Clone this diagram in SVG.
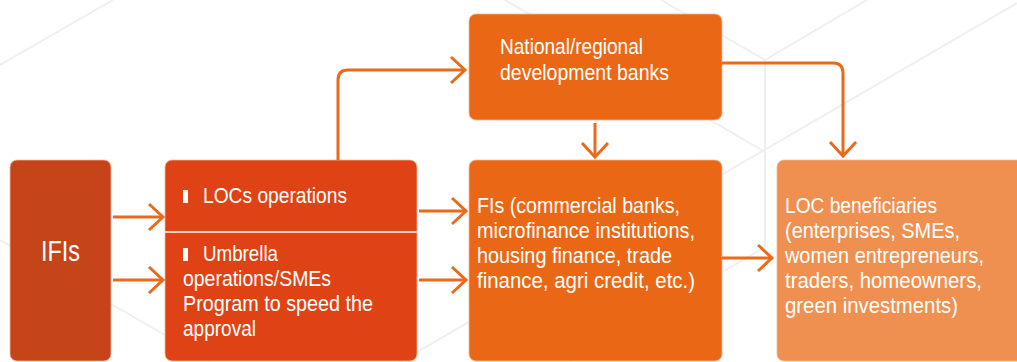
<svg xmlns="http://www.w3.org/2000/svg" width="1017" height="362" viewBox="0 0 1017 362">
  <style>
    .bg { stroke: #EFEFEF; stroke-width: 2; fill: none; }
    .box { stroke: #F4B594; stroke-width: 0.8; }
    .txt { font-family: "Liberation Sans", Arial, sans-serif; font-size: 21.5px; fill: #FFFFFF; }
    .big { font-size: 30px; }
    .conn { stroke: #EA6A1B; stroke-width: 3; fill: none; marker-end: url(#chev); }
  </style>
  <defs>
    <marker id="chev" markerUnits="userSpaceOnUse" markerWidth="24" markerHeight="32" refX="15" refY="14" orient="auto" overflow="visible">
      <path d="M1,1 L15,14 L1,27" fill="none" stroke="#EA6A1B" stroke-width="3"/>
    </marker>
  </defs>

  <rect width="1017" height="362" fill="#FFFFFF"/>

  <!-- faint isometric background grid -->
  <g id="background">
    <line class="bg" x1="0" y1="65" x2="113" y2="0"/>
    <line class="bg" x1="0" y1="240" x2="210" y2="361"/>
    <line class="bg" x1="661" y1="0" x2="765" y2="60"/>
    <line class="bg" x1="867" y1="0" x2="765" y2="60"/>
    <line class="bg" x1="765" y1="60" x2="765" y2="247"/>
    <line class="bg" x1="505" y1="0" x2="765" y2="152"/>
    <line class="bg" x1="1017" y1="3" x2="400" y2="362"/>
    <line class="bg" x1="765" y1="247" x2="570" y2="361"/>
  </g>

  <g id="node-ifis">
    <rect class="box" x="10" y="160" width="101" height="201" rx="7" fill="#C6441A"/>
    <text class="txt big" x="41" y="261" textLength="39" lengthAdjust="spacingAndGlyphs">IFIs</text>
  </g>

  <g id="node-locs">
    <rect class="box" x="165" y="160" width="252" height="201" rx="7" fill="#DF4315"/>
    <line x1="165" y1="232" x2="417" y2="232" stroke="#F7D3C0" stroke-width="2"/>
    <rect x="183" y="190" width="5" height="13" fill="#FFFFFF"/>
    <text class="txt" x="203" y="203" textLength="144" lengthAdjust="spacingAndGlyphs">LOCs operations</text>
    <rect x="183" y="248" width="5" height="13" fill="#FFFFFF"/>
    <text class="txt" x="203" y="261" textLength="75" lengthAdjust="spacingAndGlyphs">Umbrella</text>
    <text class="txt" x="183" y="286" textLength="148" lengthAdjust="spacingAndGlyphs">operations/SMEs</text>
    <text class="txt" x="183" y="311" textLength="190" lengthAdjust="spacingAndGlyphs">Program to speed the</text>
    <text class="txt" x="183" y="336" textLength="73" lengthAdjust="spacingAndGlyphs">approval</text>
  </g>

  <g id="node-national">
    <rect class="box" x="469" y="14" width="253" height="106" rx="7" fill="#EA6815"/>
    <text class="txt" x="500" y="54" textLength="143" lengthAdjust="spacingAndGlyphs">National/regional</text>
    <text class="txt" x="500" y="80" textLength="169" lengthAdjust="spacingAndGlyphs">development banks</text>
  </g>

  <g id="node-fis">
    <rect class="box" x="469" y="160" width="253" height="201" rx="7" fill="#EA6815"/>
    <text class="txt" x="477" y="213" textLength="203" lengthAdjust="spacingAndGlyphs">FIs (commercial banks,</text>
    <text class="txt" x="477" y="238" textLength="218" lengthAdjust="spacingAndGlyphs">microfinance institutions,</text>
    <text class="txt" x="477" y="263" textLength="195" lengthAdjust="spacingAndGlyphs">housing finance, trade</text>
    <text class="txt" x="477" y="288" textLength="218" lengthAdjust="spacingAndGlyphs">finance, agri credit, etc.)</text>
  </g>

  <g id="node-beneficiaries">
    <rect class="box" x="777" y="160" width="260" height="201" rx="7" fill="#F09050"/>
    <text class="txt" x="785" y="213" textLength="152" lengthAdjust="spacingAndGlyphs">LOC beneficiaries</text>
    <text class="txt" x="785" y="238" textLength="175" lengthAdjust="spacingAndGlyphs">(enterprises, SMEs,</text>
    <text class="txt" x="785" y="263" textLength="199" lengthAdjust="spacingAndGlyphs">women entrepreneurs,</text>
    <text class="txt" x="785" y="288" textLength="197" lengthAdjust="spacingAndGlyphs">traders, homeowners,</text>
    <text class="txt" x="785" y="313" textLength="173" lengthAdjust="spacingAndGlyphs">green investments)</text>
  </g>

  <g id="connectors">
    <path class="conn" d="M338,160 V80 Q338,70 348,70 H465"/>
    <path class="conn" d="M595,123 V157"/>
    <path class="conn" d="M722,63 H833 Q843,63 843,73 V156"/>
    <path class="conn" d="M113,217 H163"/>
    <path class="conn" d="M113,280 H163"/>
    <path class="conn" d="M419,211 H466"/>
    <path class="conn" d="M419,280 H466"/>
    <path class="conn" d="M722,258 H772"/>
  </g>
</svg>
